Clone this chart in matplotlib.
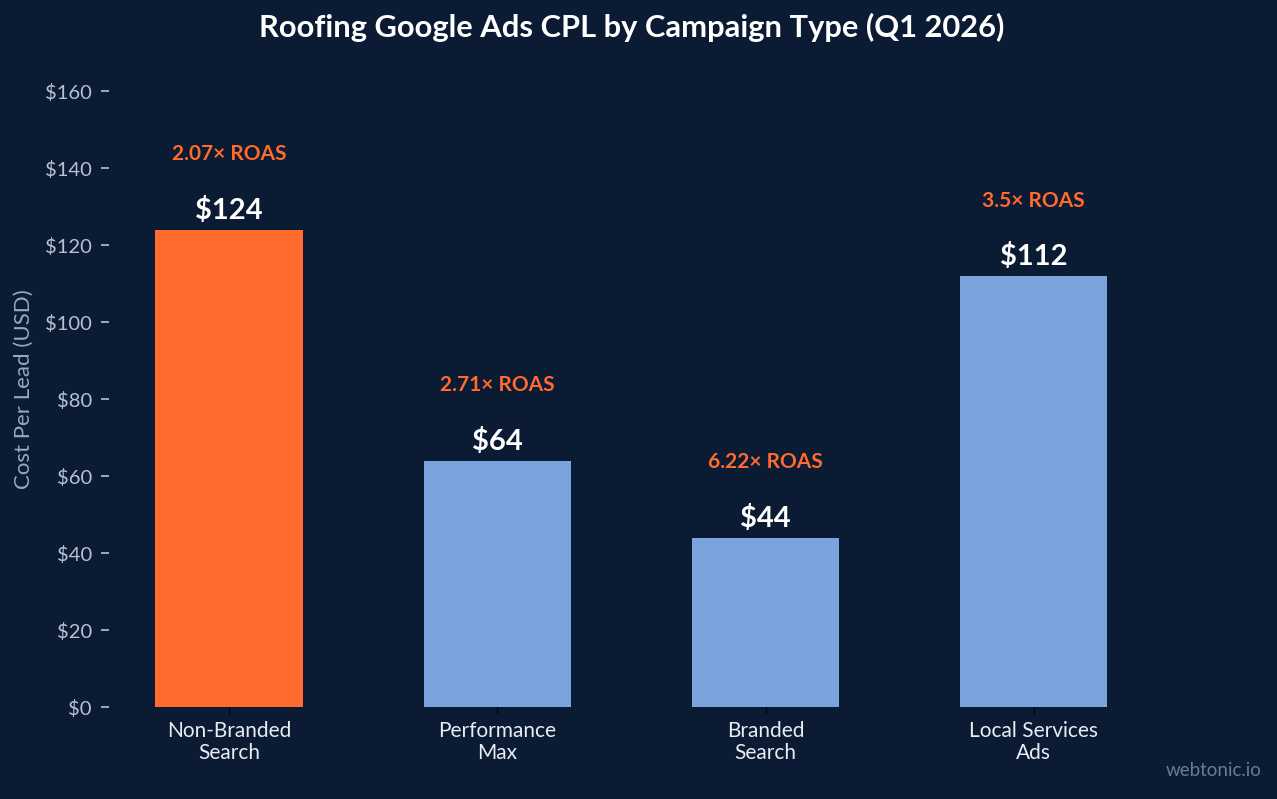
# Roofing Google Ads CPL nach Kampagnentyp
import matplotlib.pyplot as plt
from matplotlib.ticker import FuncFormatter

plt.rcParams['font.family'] = ['Lato', 'DejaVu Sans']

# Daten
kampagnen = ["Non-Branded\nSearch", "Performance\nMax", "Branded\nSearch", "Local Services\nAds"]
cpl = [124, 64, 44, 112]
roas = ["2.07× ROAS", "2.71× ROAS", "6.22× ROAS", "3.5× ROAS"]
farben = ["#ff6b2c", "#7ba3de", "#7ba3de", "#7ba3de"]

hintergrund = "#0b1b33"

fig, ax = plt.subplots(figsize=(12.77, 7.99), dpi=100)
fig.patch.set_facecolor(hintergrund)
ax.set_facecolor(hintergrund)
fig.subplots_adjust(left=0.085, right=0.904, top=0.910, bottom=0.115)

x = range(len(kampagnen))
ax.bar(x, cpl, width=0.55, color=farben, zorder=2)

# Beschriftungen über den Balken
for i, wert in enumerate(cpl):
    ax.text(i, wert + 1.5, f"${wert}", ha="center", va="bottom",
            color="white", fontsize=21, fontweight="bold")
    ax.text(i, wert + 17, roas[i], ha="center", va="bottom",
            color="#ff6b2c", fontsize=15, fontweight="bold")

ax.set_xlim(-0.45, 3.45)
ax.set_ylim(0, 165)
ax.set_yticks(range(0, 161, 20))
ax.yaxis.set_major_formatter(FuncFormatter(lambda v, p: f"${v:.0f}"))
ax.set_xticks(list(x))
ax.set_xticklabels(kampagnen)

for s in ax.spines.values():
    s.set_visible(False)

ax.tick_params(axis="y", colors="#b6c2d2", labelsize=14.5, length=6, width=1.2, pad=6)
ax.tick_params(axis="x", colors="black", labelcolor="#e8edf4", labelsize=15, length=5, pad=5)
for lbl in ax.get_xticklabels():
    lbl.set_linespacing(1.15)

ax.set_ylabel("Cost Per Lead (USD)", color="#9aa8bb", fontsize=16, labelpad=8)
ax.set_title("Roofing Google Ads CPL by Campaign Type (Q1 2026)",
             color="white", fontsize=22.2, fontweight="bold", pad=0, y=1.055)

fig.text(0.988, 0.025, "webtonic.io", ha="right", va="bottom",
         color="#6b7a90", fontsize=13.5)

plt.savefig("out.png", facecolor=hintergrund)
